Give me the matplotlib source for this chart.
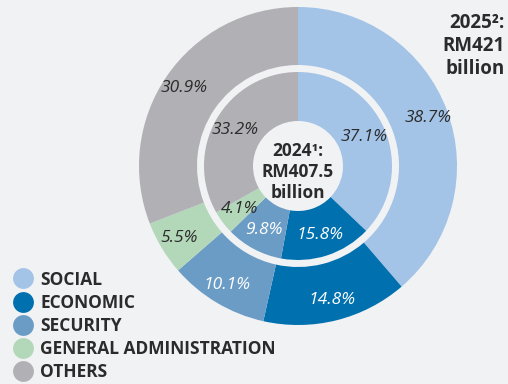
import matplotlib.pyplot as plt
from matplotlib.lines import Line2D

# Budget allocation by sector, share of total (%)
sectors = ['SOCIAL', 'ECONOMIC', 'SECURITY', 'GENERAL ADMINISTRATION', 'OTHERS']
share_2025 = [38.7, 14.8, 10.1, 5.5, 30.9]
share_2024 = [37.1, 15.8, 9.8, 4.1, 33.2]

total_2025_label = '2025\u00b2:\nRM421\nbillion'
total_2024_label = '2024\u00b9:\nRM407.5\nbillion'

colors = ['#a3c3e7', '#0070ae', '#6b9cc6', '#b3d7b9', '#b1b0b5']
label_colors = ['#2b2b2b', 'white', 'white', '#2b2b2b', '#2b2b2b']
background = '#f1f2f4'
text_dark = '#2b2b2b'

plt.rcParams['font.family'] = ['Open Sans', 'DejaVu Sans']

fig = plt.figure(figsize=(5.08, 3.84), dpi=100, facecolor=background)
ax = fig.add_axes([0, 0, 1, 1])
ax.set_facecolor(background)

center = (298, 218)


def draw_ring(values, radius, width, pctdistance):
    wedges, _, autotexts = ax.pie(
        values,
        colors=colors,
        radius=radius,
        center=center,
        startangle=90,
        counterclock=False,
        autopct='%.1f%%',
        pctdistance=pctdistance,
        wedgeprops=dict(width=width, linewidth=0),
        textprops=dict(fontsize=12.5, style='italic'),
    )
    for text, color in zip(autotexts, label_colors):
        text.set_color(color)
    return wedges


# Outer ring is 2025, inner ring is 2024
draw_ring(share_2025, 159, 58, 0.87)
draw_ring(share_2024, 94, 49, 0.77)

ax.text(center[0], center[1] - 6, total_2024_label, ha='center', va='center',
        fontsize=12.5, fontweight='bold', color=text_dark, linespacing=1.25)
ax.text(505, 338, total_2025_label, ha='right', va='center',
        fontsize=13.5, fontweight='bold', color=text_dark, linespacing=1.2)

handles = [
    Line2D([], [], marker='o', linestyle='', markersize=15,
           markerfacecolor=c, markeredgewidth=0)
    for c in colors
]
legend = ax.legend(
    handles, sectors,
    loc='lower left', bbox_to_anchor=(0.016, 0.0),
    frameon=False, handletextpad=0.3, labelspacing=0.3,
    handlelength=1.4, borderaxespad=0.0, borderpad=0.15,
    prop=dict(size=12.5, weight='bold'),
)
for text in legend.get_texts():
    text.set_color(text_dark)

ax.set_xlim(0, 508)
ax.set_ylim(0, 384)
ax.set_aspect('equal')
ax.axis('off')

fig.savefig('out.png', dpi=100, facecolor=background)
